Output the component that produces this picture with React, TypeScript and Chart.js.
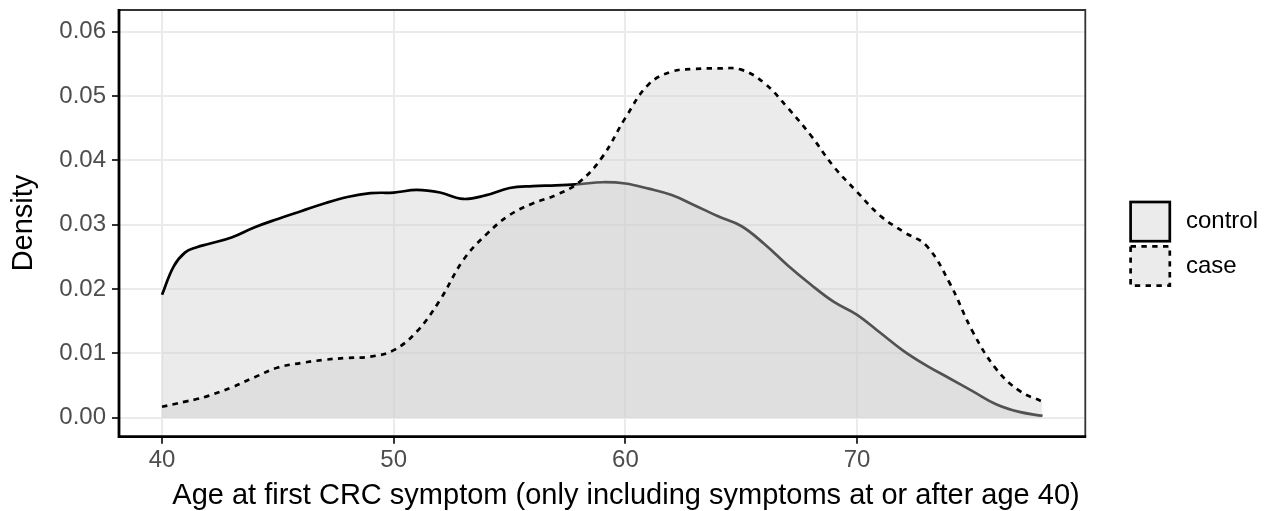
import React, { useEffect, useRef } from "react";
import { Chart, registerables } from "chart.js";

Chart.register(...registerables);

// ---- data ----
const ages = [40, 40.5, 41, 41.5, 42, 43, 44, 45, 46, 47, 48, 49, 50, 51, 52, 53, 54, 55, 56, 57, 58, 59, 60, 61, 62, 63, 64, 65, 66, 67, 68, 69, 70, 71, 72, 73, 74, 75, 76, 77, 78];
const controlDensity = [0.0191, 0.0235, 0.0257, 0.0265, 0.0270, 0.0280, 0.0296, 0.0309, 0.0321, 0.0333, 0.0343, 0.0349, 0.0350, 0.0354, 0.0350, 0.0340, 0.0346, 0.0357, 0.0360, 0.0361, 0.0363, 0.0366, 0.0364, 0.0356, 0.0346, 0.0330, 0.0313, 0.0298, 0.0270, 0.0237, 0.0207, 0.0180, 0.0160, 0.0132, 0.0104, 0.0081, 0.0061, 0.0041, 0.0021, 0.0009, 0.0003];
const caseDensity = [0.0017, 0.0021, 0.0025, 0.0029, 0.0034, 0.0047, 0.0063, 0.0078, 0.0085, 0.0090, 0.0093, 0.0095, 0.0105, 0.0134, 0.0183, 0.0245, 0.0285, 0.0315, 0.0333, 0.0346, 0.0366, 0.0405, 0.0466, 0.0518, 0.0538, 0.0542, 0.0543, 0.0541, 0.0520, 0.0482, 0.0439, 0.0390, 0.0351, 0.0314, 0.0289, 0.0267, 0.0209, 0.0133, 0.0076, 0.0042, 0.0025];
const seriesLabels = ["control", "case"];
const xTickValues = [40, 50, 60, 70];
const yTickValues = [0, 0.01, 0.02, 0.03, 0.04, 0.05, 0.06];
const xTitle = "Age at first CRC symptom (only including symptoms at or after age 40)";
const yTitle = "Density";

const FONT = "'Liberation Sans', Arial, Helvetica, sans-serif";
const FILL = "rgba(204,204,204,0.4)";

const decorPlugin = {
  id: "decor",
  afterDraw(chart: any) {
    const { ctx, chartArea } = chart;
    const { left, right, top, bottom } = chartArea;
    ctx.save();
    // panel border (grey) on top/right
    ctx.strokeStyle = "#333333";
    ctx.lineWidth = 1.8;
    ctx.beginPath();
    ctx.moveTo(left, top);
    ctx.lineTo(right, top);
    ctx.lineTo(right, bottom);
    ctx.stroke();
    // axis lines (black) left/bottom
    ctx.strokeStyle = "#000000";
    ctx.lineWidth = 2.8;
    ctx.beginPath();
    ctx.moveTo(left, top - 0.9);
    ctx.lineTo(left, bottom);
    ctx.lineTo(right + 0.9, bottom);
    ctx.stroke();

    // axis titles
    ctx.fillStyle = "#000";
    ctx.font = `29px ${FONT}`;
    ctx.textAlign = "center";
    ctx.textBaseline = "alphabetic";
    ctx.fillText(xTitle, 626, 504);
    ctx.save();
    ctx.translate(32.3, 223);
    ctx.rotate(-Math.PI / 2);
    ctx.fillText(yTitle, 0, 0);
    ctx.restore();

    // legend
    const boxX = 1130.6;
    const boxW = 39.2;
    const centers = [221.6, 266.0];
    ctx.lineWidth = 2.7;
    seriesLabels.forEach((lab, i) => {
      const cy = centers[i];
      const y0 = cy - boxW / 2;
      ctx.fillStyle = "#ffffff";
      ctx.fillRect(boxX, y0, boxW, boxW);
      ctx.fillStyle = FILL;
      ctx.fillRect(boxX, y0, boxW, boxW);
      ctx.strokeStyle = "#000";
      ctx.setLineDash(i === 1 ? [5.4, 5.4] : []);
      ctx.strokeRect(boxX, y0, boxW, boxW);
      ctx.setLineDash([]);
      ctx.fillStyle = "#000";
      ctx.font = `24px ${FONT}`;
      ctx.textAlign = "left";
      ctx.textBaseline = "middle";
      ctx.fillText(lab, 1186, cy);
    });
    ctx.restore();
  },
};

export default function App() {
  const ref = useRef<HTMLCanvasElement | null>(null);
  useEffect(() => {
    document.body.style.margin = "0";
    const canvas = ref.current!;
    const mk = (vals: number[]) => ages.map((a, i) => ({ x: a, y: vals[i] }));
    const chart = new Chart(canvas, {
      type: "line",
      data: {
        datasets: [
          {
            label: seriesLabels[0],
            data: mk(controlDensity),
            borderColor: "#000000",
            borderWidth: 2.7,
            backgroundColor: FILL,
            fill: "origin",
            pointRadius: 0,
            tension: 0.4,
            order: 2,
          },
          {
            label: seriesLabels[1],
            data: mk(caseDensity),
            borderColor: "#000000",
            borderWidth: 2.7,
            borderDash: [5.4, 5.4],
            backgroundColor: FILL,
            fill: "origin",
            pointRadius: 0,
            tension: 0.4,
            order: 1,
          },
        ],
      },
      options: {
        animation: false,
        responsive: false,
        devicePixelRatio: 1,
        layout: { padding: { left: 0, top: 10, right: 178.7, bottom: 0 } },
        plugins: {
          legend: { display: false },
          tooltip: { enabled: false },
          filler: { drawTime: "beforeDatasetDraw" },
        },
        scales: {
          x: {
            type: "linear",
            min: 38.144,
            max: 79.85,
            afterBuildTicks: (s: any) => {
              s.ticks = xTickValues.map((v) => ({ value: v }));
            },
            afterFit: (s: any) => {
              s.height = 74.3;
              s.paddingLeft = 0;
              s.paddingRight = 0;
            },
            ticks: {
              font: { family: FONT, size: 24 },
              color: "#4D4D4D",
              padding: 2,
              maxRotation: 0,
              callback: (v: any) => String(v),
            },
            grid: {
              color: "#EBEBEB",
              lineWidth: 2,
              tickColor: "#333333",
              tickWidth: 2,
              tickLength: 7,
            },
            border: { display: false },
          },
          y: {
            type: "linear",
            min: -0.00295,
            max: 0.06337,
            afterBuildTicks: (s: any) => {
              s.ticks = yTickValues.map((v) => ({ value: v }));
            },
            afterFit: (s: any) => {
              s.width = 119;
              s.paddingTop = 0;
              s.paddingBottom = 0;
            },
            ticks: {
              font: { family: FONT, size: 24 },
              color: "#4D4D4D",
              padding: 6,
              callback: (v: any) => Number(v).toFixed(2),
            },
            grid: {
              color: "#EBEBEB",
              lineWidth: 2,
              tickColor: "#333333",
              tickWidth: 2,
              tickLength: 7,
            },
            border: { display: false },
          },
        },
      },
      plugins: [decorPlugin],
    } as any);
    return () => chart.destroy();
  }, []);
  return (
    <div style={{ position: "fixed", left: 0, top: 0, width: 1264, height: 511, background: "#fff" }}>
      <canvas ref={ref} width={1264} height={511} style={{ display: "block", width: 1264, height: 511 }} />
    </div>
  );
}
